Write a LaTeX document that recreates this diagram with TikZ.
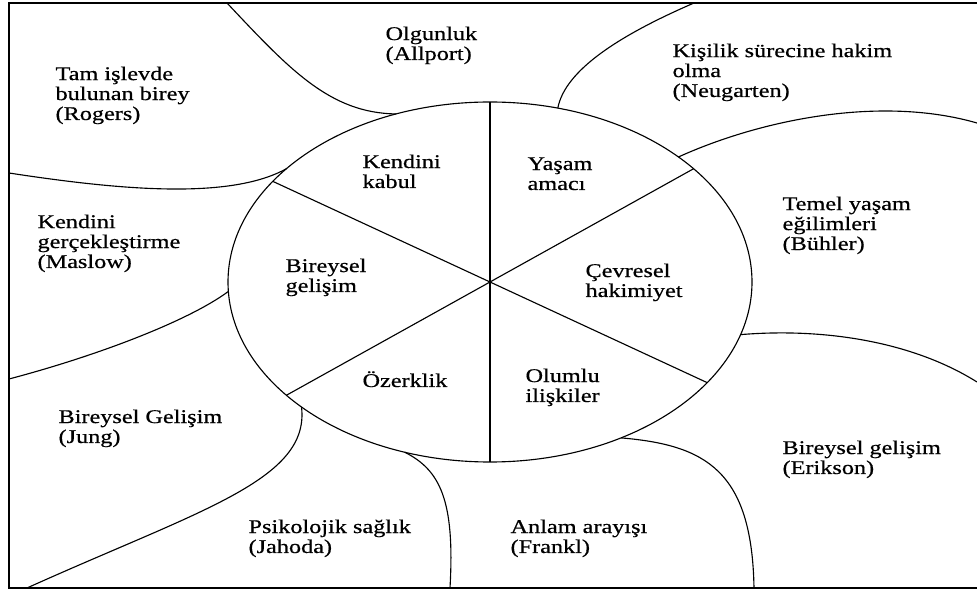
\documentclass[tikz,border=0pt]{standalone}
\usepackage{fontspec}
\setmainfont{Liberation Serif}[FakeStretch=1.25,FakeBold=0.6]
\usetikzlibrary{calc}

\begin{document}
\begin{tikzpicture}[x=0.25mm, y=0.25mm, line width=0.8pt,
    lbl/.style={anchor=base west, align=left, inner sep=0pt, font=\fontsize{13.8}{14.2}\selectfont},
    frame/.style={line width=1.3pt}]
\useasboundingbox (0,0) rectangle (977,592);
\draw[frame] (977,589) -- (9,589) -- (9,4) -- (977,4);
\coordinate (hub) at (490,310);
\draw (hub) ellipse [x radius=262, y radius=180];
\foreach \a in {90,270,146,326,39,219,111,141,75,44,343,300,251,224,183}
    \coordinate (e\a) at ($(hub)+(\a:262 and 180)$);
\foreach \n/\x/\y in {t1/227/589,t2/694/589,r1/977/469,r2/977/210,b1/754/4,b2/450/4,b3/27/4,l1/9/213,l2/9/419}
    \coordinate (\n) at (\x,\y);
\foreach \a/\b in {90/270,146/326,39/219} \draw (e\a) -- (e\b);
\draw (t1) .. controls (290,522) and (330,479) .. (e111);
\draw (l2) .. controls (120,402) and (230,392) .. (e141);
\draw (t2) .. controls (620,557) and (565,522) .. (e75);
\draw (e44) .. controls (760,472) and (880,497) .. (r1);
\draw (e343) .. controls (820,264) and (910,252) .. (r2);
\draw (e300) .. controls (705,147) and (752,122) .. (b1);
\draw (e251) .. controls (440,122) and (455,92) .. (b2);
\draw (b3) .. controls (200,82) and (310,112) .. (e224);
\draw (l1) .. controls (100,237) and (190,272) .. (e183);
\foreach \n/\x/\y/\t in {allport/385/532/{Olgunluk\\(Allport)},
    rogers/55/472/{Tam işlevde\\bulunan birey\\(Rogers)},
    neugarten/672/495/{Kişilik sürecine hakim\\olma\\(Neugarten)},
    buhler/782/342/{Temel yaşam\\eğilimleri\\(Bühler)},
    maslow/37/324/{Kendini\\gerçekleştirme\\(Maslow)},
    jung/58/149/{Bireysel Gelişim\\(Jung)},
    jahoda/248/39/{Psikolojik sağlık\\(Jahoda)},
    frankl/510/39/{Anlam arayışı\\(Frankl)},
    erikson/782/118/{Bireysel gelişim\\(Erikson)},
    kabul/362/404/{Kendini\\kabul},
    gelisim/285/300/{Bireysel\\gelişim},
    amac/527/402/{Yaşam\\amacı},
    cevre/585/295/{Çevresel\\hakimiyet},
    iliski/525/190/{Olumlu\\ilişkiler},
    ozerk/362/205/{Özerklik}}
    \node[lbl] (\n) at (\x,\y) {\t};
\end{tikzpicture}
\end{document}
